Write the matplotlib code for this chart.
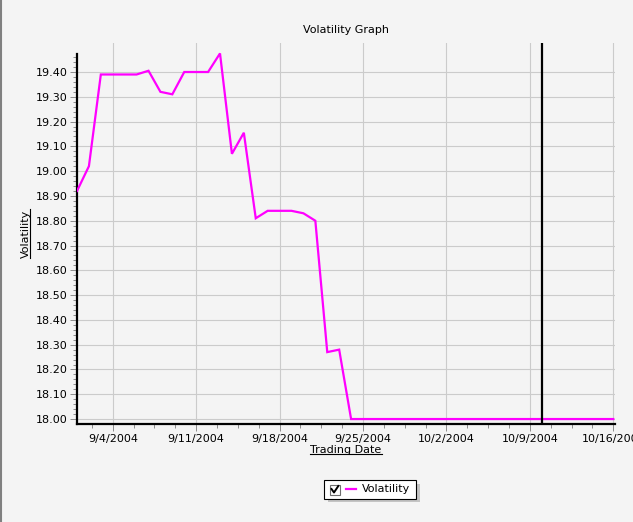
import datetime as dt

import matplotlib

matplotlib.use("Agg")
import matplotlib.dates as mdates
import matplotlib.pyplot as plt
import numpy as np
from matplotlib.lines import Line2D
from matplotlib.patches import Rectangle
from matplotlib.ticker import FixedLocator, FuncFormatter

# data
dates = [
    "2004-09-01", "2004-09-02", "2004-09-03", "2004-09-06", "2004-09-07",
    "2004-09-08", "2004-09-09", "2004-09-10", "2004-09-12", "2004-09-13",
    "2004-09-14", "2004-09-15", "2004-09-16", "2004-09-17", "2004-09-19",
    "2004-09-20", "2004-09-21", "2004-09-22", "2004-09-23", "2004-09-24",
    "2004-10-16",
]
volatility = [
    18.92, 19.02, 19.39, 19.39, 19.405,
    19.32, 19.31, 19.40, 19.40, 19.475,
    19.07, 19.155, 18.81, 18.84, 18.84,
    18.83, 18.80, 18.27, 18.28, 18.00,
    18.00,
]
marker_date = "2004-10-10"
series_name = "Volatility"

W, H = 633, 522
BG = "#f4f4f4"
GRID = "#cbcbcb"
TICK = "#8c8c8c"
MAGENTA = "#ff00ff"
FS = 8

x = [dt.datetime.strptime(d, "%Y-%m-%d") for d in dates]
ymin, ymax = 17.98, 19.517
axis_top = 19.474  # the left axis line stops short of the plot top

fig = plt.figure(figsize=(W / 100, H / 100), dpi=100, facecolor=BG)


def fx(px):
    return px / W


def fy(py):
    return 1 - py / H


# axes box in pixels: left 77, right 615, top 43, bottom 424
ax = fig.add_axes([fx(77), fy(424), fx(615 - 77), (424 - 43) / H])
ax.set_facecolor(BG)

ax.plot(x, volatility, color=MAGENTA, lw=1.6, solid_joinstyle="miter", zorder=3)
ax.axvline(dt.datetime.strptime(marker_date, "%Y-%m-%d"), color="black", lw=1.6, zorder=4)

ax.set_xlim(x[0], x[-1] + dt.timedelta(hours=3.5))
ax.set_ylim(ymin, ymax)

# x ticks: weekly majors on saturdays, four minors per week
ax.xaxis.set_major_locator(mdates.WeekdayLocator(byweekday=mdates.SA))
ax.xaxis.set_major_formatter(
    FuncFormatter(lambda v, p: "{d.month}/{d.day}/{d.year}".format(d=mdates.num2date(v)))
)
first_sat = mdates.date2num(dt.datetime(2004, 9, 4))
ax.xaxis.set_minor_locator(
    FixedLocator(np.arange(first_sat - 1.75, mdates.date2num(x[-1]) + 1, 1.75))
)

# y ticks only up to the end of the axis line
ax.yaxis.set_major_locator(FixedLocator(np.arange(18.0, 19.41, 0.1)))
ax.yaxis.set_minor_locator(FixedLocator(np.arange(18.0, axis_top, 0.02)))
ax.yaxis.set_major_formatter(FuncFormatter(lambda v, p: "%.2f" % v))

ax.tick_params(which="major", length=5, width=0.7, color=TICK, labelsize=FS, pad=2)
ax.tick_params(which="minor", length=3, width=0.7, color=TICK)
ax.tick_params(axis="x", which="major", pad=2)

ax.grid(which="major", color=GRID, lw=0.8)
ax.set_axisbelow(True)

for s in ["top", "right"]:
    ax.spines[s].set_visible(False)
ax.spines["left"].set_linewidth(1.6)
ax.spines["bottom"].set_linewidth(1.6)
ax.spines["left"].set_bounds(ymin, axis_top)

ax.set_title("Volatility Graph", fontsize=FS, pad=7)
ax.set_xlabel("Trading Date", fontsize=FS, labelpad=1)
ax.set_ylabel("Volatility", fontsize=FS, labelpad=3)

# underline the axis labels
fig.canvas.draw()
inv = fig.transFigure.inverted()
bb = ax.xaxis.label.get_window_extent()
(x0, y0), (x1, y1) = inv.transform([(bb.x0, bb.y0), (bb.x1, bb.y1)])
fig.add_artist(Line2D([x0, x1], [y0 + 1.5 / H, y0 + 1.5 / H], color="black", lw=0.8))
bb = ax.yaxis.label.get_window_extent()
(x0, y0), (x1, y1) = inv.transform([(bb.x0, bb.y0), (bb.x1, bb.y1)])
fig.add_artist(Line2D([x1 - 1.5 / W, x1 - 1.5 / W], [y0, y1], color="black", lw=0.8))

# left window border
fig.add_artist(Line2D([fx(1), fx(1)], [0, 1], color="#808080", lw=1.5))

# hand-drawn legend box with checkbox
fig.add_artist(Rectangle((fx(328), fy(502)), fx(92), 18 / H, facecolor="#c4c4c4",
                         edgecolor="none", transform=fig.transFigure))
fig.add_artist(Rectangle((fx(324), fy(498.5)), fx(91.5), 18.5 / H, facecolor="white",
                         edgecolor="black", lw=0.8, transform=fig.transFigure))
fig.add_artist(Rectangle((fx(329.5), fy(495)), fx(10.5), 10.5 / H, facecolor="white",
                         edgecolor="#707070", lw=0.8, transform=fig.transFigure))
fig.add_artist(Line2D([fx(331.5), fx(334), fx(338.3)], [fy(489), fy(492.5), fy(486)],
                      color="black", lw=1.4))
fig.add_artist(Line2D([fx(345.5), fx(356)], [fy(489.2), fy(489.2)], color=MAGENTA, lw=1.6))
fig.text(fx(361.5), fy(489.5), series_name, fontsize=FS, va="center", ha="left")

fig.savefig("out.png", dpi=100, facecolor=BG)
